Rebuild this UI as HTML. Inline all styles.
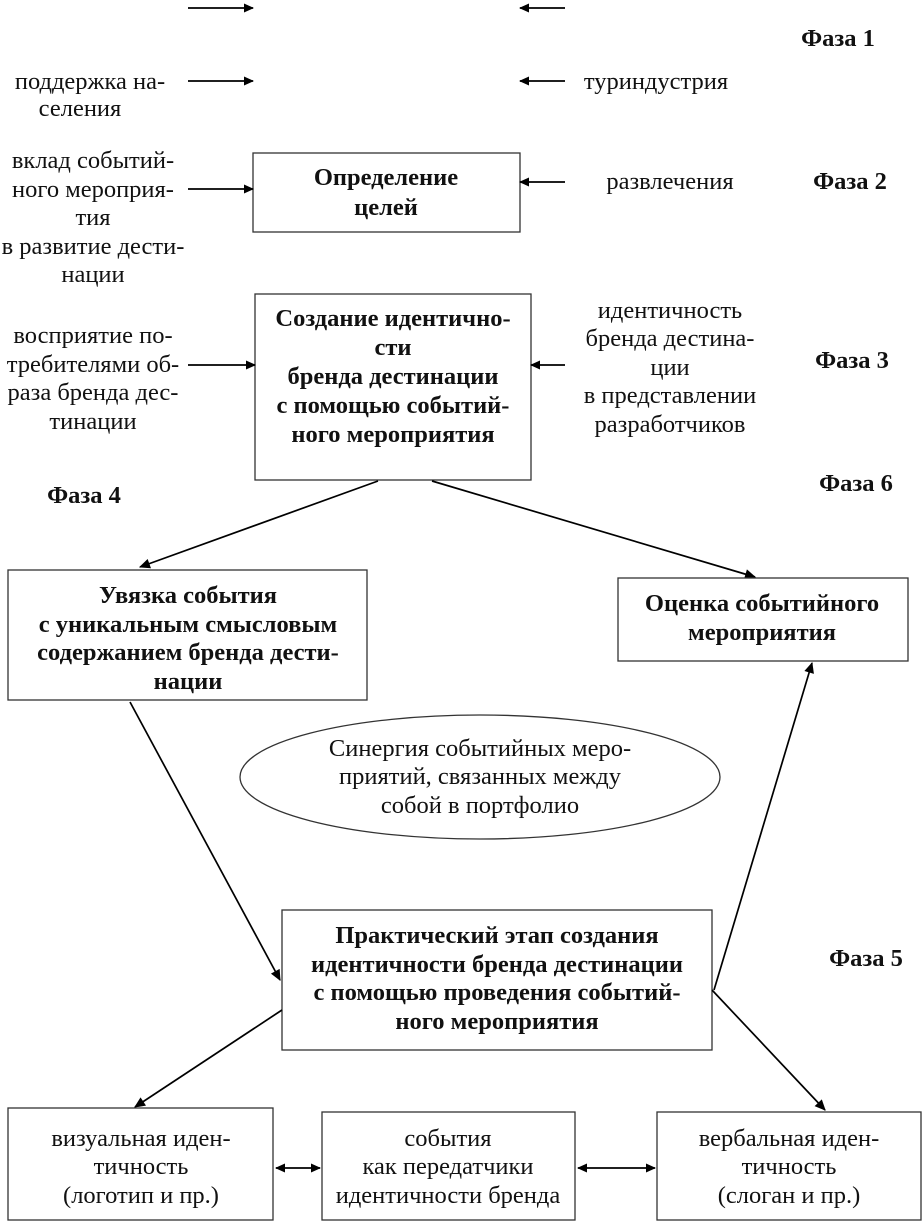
<!DOCTYPE html>
<html><head><meta charset="utf-8"><style>
html,body{margin:0;padding:0;background:#fff}
svg text{font-family:"Liberation Serif",serif;font-size:24.5px;fill:#111;text-anchor:middle}
svg text.b{font-weight:bold}
rect,ellipse{fill:#fff;stroke:#333;stroke-width:1.3}
line{stroke:#000;stroke-width:1.7}
</style></head><body>
<svg width="923" height="1224" viewBox="0 0 923 1224" xmlns="http://www.w3.org/2000/svg">
<defs>
<marker id="a" viewBox="0 0 10 10" refX="9" refY="5" markerWidth="11" markerHeight="10" orient="auto-start-reverse" markerUnits="userSpaceOnUse"><path d="M0,0.5 L10,5 L0,9.5 z" fill="#000"/></marker>
<marker id="s" viewBox="0 0 10 10" refX="9" refY="5" markerWidth="12" markerHeight="11" orient="auto-start-reverse" markerUnits="userSpaceOnUse"><path d="M0,0.5 L10,5 L0,9.5 z" fill="#000"/></marker>
</defs>
<line x1="188" y1="8" x2="253" y2="8" marker-end="url(#a)"/>
<line x1="565" y1="8" x2="520" y2="8" marker-end="url(#a)"/>
<line x1="188" y1="81" x2="253" y2="81" marker-end="url(#a)"/>
<line x1="565" y1="81" x2="520" y2="81" marker-end="url(#a)"/>
<text class="b" x="838" y="46">Фаза 1</text>
<text x="90" y="89">поддержка на-</text>
<text x="80" y="116">селения</text>
<text x="656" y="89">туриндустрия</text>
<rect x="253" y="153" width="267" height="79"/>
<text class="b" x="386" y="185">Определение</text>
<text class="b" x="386" y="215">целей</text>
<line x1="188" y1="189" x2="253" y2="189" marker-end="url(#a)"/>
<line x1="565" y1="182" x2="520" y2="182" marker-end="url(#a)"/>
<text x="670" y="189">развлечения</text>
<text class="b" x="850" y="189">Фаза 2</text>
<text x="93" y="168">вклад событий-</text>
<text x="93" y="197">ного мероприя-</text>
<text x="93" y="225">тия</text>
<text x="93" y="254">в развитие дести-</text>
<text x="93" y="282">нации</text>
<rect x="255" y="294" width="276" height="186"/>
<text class="b" x="393" y="326">Создание идентично-</text>
<text class="b" x="393" y="355">сти</text>
<text class="b" x="393" y="384">бренда дестинации</text>
<text class="b" x="393" y="413">с помощью событий-</text>
<text class="b" x="393" y="442">ного мероприятия</text>
<line x1="188" y1="365" x2="255" y2="365" marker-end="url(#a)"/>
<line x1="565" y1="365" x2="531" y2="365" marker-end="url(#a)"/>
<text x="93" y="343">восприятие по-</text>
<text x="93" y="372">требителями об-</text>
<text x="93" y="400">раза бренда дес-</text>
<text x="93" y="429">тинации</text>
<text x="670" y="318">идентичность</text>
<text x="670" y="346">бренда дестина-</text>
<text x="670" y="375">ции</text>
<text x="670" y="403">в представлении</text>
<text x="670" y="432">разработчиков</text>
<text class="b" x="852" y="368">Фаза 3</text>
<text class="b" x="84" y="503">Фаза 4</text>
<text class="b" x="856" y="491">Фаза 6</text>
<line x1="378" y1="481" x2="140" y2="567" marker-end="url(#s)"/>
<line x1="432" y1="481" x2="755" y2="577" marker-end="url(#s)"/>
<rect x="8" y="570" width="359" height="130"/>
<text class="b" x="188" y="603">Увязка события</text>
<text class="b" x="188" y="632">с уникальным смысловым</text>
<text class="b" x="188" y="660">содержанием бренда дести-</text>
<text class="b" x="188" y="689">нации</text>
<rect x="618" y="578" width="290" height="83"/>
<text class="b" x="762" y="611">Оценка событийного</text>
<text class="b" x="762" y="640">мероприятия</text>
<ellipse cx="480" cy="777" rx="240" ry="62"/>
<text x="480" y="756">Синергия событийных меро-</text>
<text x="480" y="784">приятий, связанных между</text>
<text x="480" y="813">собой в портфолио</text>
<line x1="130" y1="702" x2="280" y2="980" marker-end="url(#s)"/>
<rect x="282" y="910" width="430" height="140"/>
<text class="b" x="497" y="943">Практический этап создания</text>
<text class="b" x="497" y="972">идентичности бренда дестинации</text>
<text class="b" x="497" y="1000">с помощью проведения событий-</text>
<text class="b" x="497" y="1029">ного мероприятия</text>
<line x1="714" y1="990" x2="812" y2="663" marker-end="url(#s)"/>
<text class="b" x="866" y="966">Фаза 5</text>
<line x1="282" y1="1010" x2="135" y2="1107" marker-end="url(#s)"/>
<line x1="712" y1="990" x2="825" y2="1110" marker-end="url(#s)"/>
<rect x="8" y="1108" width="265" height="112"/>
<rect x="322" y="1112" width="253" height="108"/>
<rect x="657" y="1112" width="264" height="108"/>
<text x="141" y="1146">визуальная иден-</text>
<text x="141" y="1174">тичность</text>
<text x="141" y="1203">(логотип и пр.)</text>
<text x="448" y="1146">события</text>
<text x="448" y="1174">как передатчики</text>
<text x="448" y="1203">идентичности бренда</text>
<text x="789" y="1146">вербальная иден-</text>
<text x="789" y="1174">тичность</text>
<text x="789" y="1203">(слоган и пр.)</text>
<line x1="276" y1="1168" x2="320" y2="1168" marker-start="url(#a)" marker-end="url(#a)"/>
<line x1="578" y1="1168" x2="655" y2="1168" marker-start="url(#a)" marker-end="url(#a)"/>
</svg>
</body></html>
